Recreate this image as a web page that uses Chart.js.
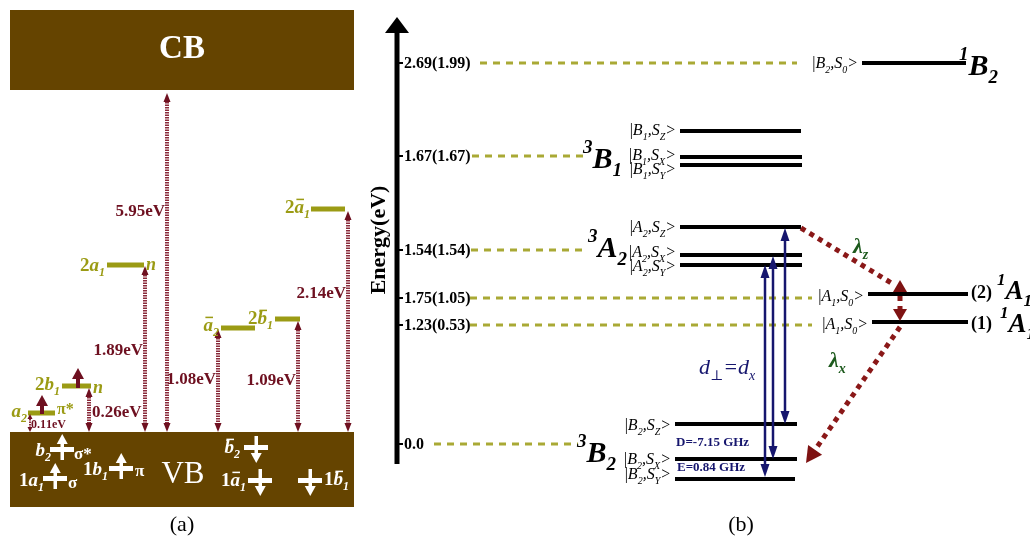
<!DOCTYPE html>
<html>
<head>
<meta charset="utf-8">
<script src="https://cdn.jsdelivr.net/npm/chart.js@4.4.0/dist/chart.umd.min.js"></script>
<style>
  html, body { margin: 0; padding: 0; background: #fff; }
  #wrap { width: 1030px; height: 541px; position: relative; }
</style>
</head>
<body>
<div id="wrap"><canvas id="fig"></canvas></div>
<script>
// diagram units: 1 unit ~ 1 px of the original figure, y grows downwards

// ---------- panel (a): orbital picture ----------
var aBandNames = ['CB', 'VB'];
var aBandTop = [10, 432];
var aBandBottom = [90, 507];
var aBandLeft = 10, aBandRight = 354;

var aOrbitals = ['`a_2', '2`b_1', '2`a_1', '`~a_2', '2`~b_1', '2`~a_1'];
var aOrbY  = [413, 386, 265, 328, 319, 209];
var aOrbX0 = [28, 62, 107, 221, 275, 311];
var aOrbX1 = [55, 91, 144, 255, 300, 345];

var aGapLabels = ['5.95eV', '2.14eV', '1.89eV', '1.08eV', '1.09eV', '0.26eV', '0.11eV'];
var aGapX   = [167, 348, 145, 218, 298, 89, 30];
var aGapTop = [93, 211, 266, 329, 321, 388, 414];
var aGapBottom = 432;

var aOccupied = ['`b_2', '1`a_1', '1`b_1', '`~b_2', '1`~a_1', '1`~b_1'];
var aOccSpin  = ['up', 'up', 'up', 'down', 'down', 'down'];
var aOccX = [62, 55, 121, 256, 260, 310];
var aOccY = [449, 478, 468, 447, 480, 480];

// ---------- panel (b): state diagram ----------
var bTickLabels = ['2.69(1.99)', '1.67(1.67)', '1.54(1.54)', '1.75(1.05)', '1.23(0.53)', '0.0'];
var bTickRows   = [63, 156, 250, 298, 325, 444];
var bGuideStart = [480, 472, 471, 470, 470, 434];
var bGuideEnd   = [797, 583, 585, 812, 812, 578];

var bStates = ['|`B_2,S_0>', '|`B_1,S_Z>', '|`B_1,S_X>', '|`B_1,S_Y>',
               '|`A_2,S_Z>', '|`A_2,S_X>', '|`A_2,S_Y>',
               '|`A_1,S_0>', '|`A_1,S_0>',
               '|`B_2,S_Z>', '|`B_2,S_X>', '|`B_2,S_Y>'];
var bStateY  = [63, 131, 157, 165, 227, 255, 265, 294, 322, 424, 459, 479];
var bStateX0 = [862, 680, 680, 680, 680, 680, 680, 868, 872, 675, 675, 675];
var bStateX1 = [966, 801, 802, 802, 801, 802, 802, 968, 968, 797, 797, 795];
var bStateLabelY = [63, 130, 155, 169, 227, 252, 266, 296, 324, 425, 459, 474];

var bTerms = ['`^1B_2', '`^3B_1', '`^3A_2', '`^3B_2', '`^1A_1', '`^1A_1'];
var bTermPos = [[959, 65], [583, 158], [588, 247], [577, 452], [997, 290], [1000, 323]];

var bDipoleX    = [765, 773, 785];
var bDipoleFrom = [265, 256, 228];
var bDipoleTo   = [477, 459, 424];

var bIscPath = [[801, 228], [893, 284], [900, 284], [900, 321], [900, 327], [806, 463]];

var DARKRED = '#6e1020', OLIVE = '#9b9b14', BROWN = '#654400', NAVY = '#16166e';
var SERIF = '"Liberation Serif", "DejaVu Serif", serif';

function seg(x0, x1, y0, y1) { return [{x: x0, y: y0}, {x: x1, y: y1}]; }
function lineSet(pts, color, width, dash) {
  return { data: pts, borderColor: color, borderWidth: width, borderDash: dash || [],
           pointRadius: 0, fill: false, tension: 0, borderCapStyle: 'butt' };
}

var datasets = [];
// olive orbital levels
aOrbY.forEach(function (y, i) { datasets.push(lineSet(seg(aOrbX0[i], aOrbX1[i], y, y), OLIVE, 5)); });
// dashed guides
bTickRows.forEach(function (y, i) { datasets.push(lineSet(seg(bGuideStart[i], bGuideEnd[i], y, y), '#a9a935', 3, [7, 6])); });
// tick dashes
bTickRows.forEach(function (y) { datasets.push(lineSet(seg(397, 403, y, y), '#000', 2)); });
// axis
datasets.push(lineSet(seg(397, 397, 464, 28), '#000', 5));
// black levels
bStateY.forEach(function (y, i) { datasets.push(lineSet(seg(bStateX0[i], bStateX1[i], y, y), '#000', 4)); });

function parseRich(s) {
  var out = [], it = false;
  for (var i = 0; i < s.length; i++) {
    var c = s[i], mode = 'n', over = false;
    if (c === '`') { it = !it; continue; }
    if (c === '~') { over = true; c = s[++i]; }
    if (c === '_') { mode = 'sub'; c = s[++i]; }
    else if (c === '^') { mode = 'sup'; c = s[++i]; }
    out.push({ c: c, mode: mode, over: over, it: it });
  }
  return out;
}

function drawRich(ctx, s, x, y, o) {
  var size = o.size, toks = parseRich(s);
  function font(t) {
    var sz = t.mode === 'n' ? size : Math.round(size * 0.62);
    return (t.it ? 'italic ' : '') + (o.bold ? 'bold ' : '') + sz + 'px ' + SERIF;
  }
  var w = 0;
  toks.forEach(function (t) { ctx.font = font(t); t.w = ctx.measureText(t.c).width; w += t.w; });
  var cx = o.align === 'right' ? x - w : (o.align === 'center' ? x - w / 2 : x);
  var base = y + size * 0.34;
  ctx.fillStyle = o.color; ctx.textAlign = 'left'; ctx.textBaseline = 'alphabetic';
  toks.forEach(function (t) {
    ctx.font = font(t);
    var dy = t.mode === 'sub' ? size * 0.26 : (t.mode === 'sup' ? -size * 0.52 : 0);
    ctx.fillText(t.c, cx, base + dy);
    if (t.over) ctx.fillRect(cx + t.w * 0.2, base - size * 0.78, t.w * 0.8, Math.max(1.5, size * 0.08));
    cx += t.w;
  });
}

function head(ctx, x, y, ang, len, wid) {
  ctx.beginPath();
  ctx.moveTo(x, y);
  ctx.lineTo(x - len * Math.cos(ang) + wid / 2 * Math.sin(ang), y - len * Math.sin(ang) - wid / 2 * Math.cos(ang));
  ctx.lineTo(x - len * Math.cos(ang) - wid / 2 * Math.sin(ang), y - len * Math.sin(ang) + wid / 2 * Math.cos(ang));
  ctx.closePath();
  ctx.fill();
}

var diagram = {
  id: 'diagram',
  beforeDatasetsDraw: function (chart) {
    var ctx = chart.ctx, X = chart.scales.x, Y = chart.scales.y;
    ctx.save();
    ctx.fillStyle = BROWN;
    aBandNames.forEach(function (n, i) {
      var x0 = X.getPixelForValue(aBandLeft), x1 = X.getPixelForValue(aBandRight);
      var y0 = Y.getPixelForValue(aBandTop[i]), y1 = Y.getPixelForValue(aBandBottom[i]);
      ctx.fillRect(x0, y0, x1 - x0, y1 - y0);
    });
    ctx.restore();
  },
  afterDatasetsDraw: function (chart) {
    var ctx = chart.ctx, X = chart.scales.x, Y = chart.scales.y;
    function px(v) { return X.getPixelForValue(v); }
    function py(v) { return Y.getPixelForValue(v); }
    ctx.save();

    // hatched gap arrows (a)
    aGapX.forEach(function (x, i) {
      var xx = px(x), t = py(aGapTop[i]), b = py(aGapBottom);
      var hl = i === 6 ? 5 : 9;
      ctx.strokeStyle = '#8a2a3a'; ctx.lineWidth = i === 6 ? 2 : 4; ctx.setLineDash([1.5, 1]);
      ctx.beginPath(); ctx.moveTo(xx, t + hl); ctx.lineTo(xx, b - hl); ctx.stroke();
      ctx.setLineDash([]); ctx.fillStyle = DARKRED;
      head(ctx, xx, t, -Math.PI / 2, hl, i === 6 ? 5 : 7);
      head(ctx, xx, b, Math.PI / 2, hl, i === 6 ? 5 : 7);
    });
    // electrons in a2 and 2b1
    [[42, 414, 395], [78, 388, 368]].forEach(function (e) {
      ctx.fillStyle = DARKRED;
      ctx.fillRect(px(e[0]) - 2, py(e[2]) + 8, 4, py(e[1]) - py(e[2]) - 8);
      head(ctx, px(e[0]), py(e[2]), -Math.PI / 2, 11, 12);
    });
    // white spin glyphs in VB
    ctx.fillStyle = '#fff';
    aOccX.forEach(function (x, i) {
      var xx = px(x), yy = py(aOccY[i]);
      ctx.fillRect(xx - 12, yy - 2, 24, 5);
      if (aOccSpin[i] === 'up') {
        ctx.fillRect(xx - 1.5, yy - 6, 3.5, 17);
        head(ctx, xx + 0.25, yy - 15, -Math.PI / 2, 10, 11);
      } else {
        ctx.fillRect(xx - 1.5, yy - 11, 3.5, 17);
        head(ctx, xx + 0.25, yy + 16, Math.PI / 2, 10, 11);
      }
    });

    // axis arrowhead (b)
    ctx.fillStyle = '#000';
    head(ctx, px(397), py(17), -Math.PI / 2, 16, 24);

    // dipole transitions
    ctx.strokeStyle = NAVY; ctx.fillStyle = NAVY; ctx.lineWidth = 2.5;
    bDipoleX.forEach(function (x, i) {
      var xx = px(x), t = py(bDipoleFrom[i]), b = py(bDipoleTo[i]);
      ctx.beginPath(); ctx.moveTo(xx, t + 10); ctx.lineTo(xx, b - 10); ctx.stroke();
      head(ctx, xx, t, -Math.PI / 2, 13, 9);
      head(ctx, xx, b, Math.PI / 2, 13, 9);
    });

    // intersystem crossing path
    ctx.strokeStyle = '#8a1818'; ctx.fillStyle = '#7e1212'; ctx.lineWidth = 5; ctx.setLineDash([5, 5]);
    for (var k = 0; k < bIscPath.length; k += 2) {
      var p0 = bIscPath[k], p1 = bIscPath[k + 1];
      var x0 = px(p0[0]), y0 = py(p0[1]), x1 = px(p1[0]), y1 = py(p1[1]);
      var ang = Math.atan2(y1 - y0, x1 - x0);
      var stop = k === 0 ? 0 : 12;
      var s0 = k === 2 ? 12 : 0;
      ctx.beginPath();
      ctx.moveTo(x0 + s0 * Math.cos(ang), y0 + s0 * Math.sin(ang));
      ctx.lineTo(x1 - stop * Math.cos(ang), y1 - stop * Math.sin(ang));
      ctx.stroke();
      ctx.setLineDash([]);
      if (k === 2) { head(ctx, x0, y0 - 4, -Math.PI / 2, 12, 14); head(ctx, x1, y1, Math.PI / 2, 12, 14); }
      if (k === 4) head(ctx, x1, y1, ang, 16, 17);
      ctx.setLineDash([5, 5]);
    }
    ctx.setLineDash([]);

    // ---- text ----
    drawRich(ctx, 'CB', px(182), py(47), { size: 33, bold: true, color: '#fff', align: 'center' });
    drawRich(ctx, 'VB', px(183), py(472), { size: 31, color: '#fff', align: 'center' });

    var gapPos = [[165, 210, 'right'], [346, 292, 'right'], [143, 349, 'right'], [216, 378, 'right'],
                  [296, 379, 'right'], [92, 411, 'left'], [31, 424, 'left']];
    aGapLabels.forEach(function (s, i) {
      var g = gapPos[i];
      drawRich(ctx, s, px(g[0]), py(g[1]), { size: i === 6 ? 12 : 17, bold: true, color: DARKRED, align: g[2] });
    });

    var orbLabelPos = [[27, 411], [60, 384], [105, 265], [219, 325], [273, 318], [310, 207]];
    aOrbitals.forEach(function (s, i) {
      drawRich(ctx, s, px(orbLabelPos[i][0]), py(orbLabelPos[i][1]), { size: 19, bold: true, color: OLIVE, align: 'right' });
    });
    drawRich(ctx, 'π*', px(57), py(409), { size: 16, bold: true, color: OLIVE, align: 'left' });
    drawRich(ctx, '`n', px(93), py(387), { size: 18, bold: true, color: OLIVE, align: 'left' });
    drawRich(ctx, '`n', px(146), py(264), { size: 18, bold: true, color: OLIVE, align: 'left' });

    var occLabelPos = [[51, 450, 'right'], [44, 480, 'right'], [108, 469, 'right'],
                       [240, 447, 'right'], [246, 480, 'right'], [324, 479, 'left']];
    aOccupied.forEach(function (s, i) {
      var p = occLabelPos[i];
      drawRich(ctx, s, px(p[0]), py(p[1]), { size: 19, bold: true, color: '#fff', align: p[2] });
    });
    drawRich(ctx, 'σ*', px(74), py(453), { size: 17, bold: true, color: '#fff', align: 'left' });
    drawRich(ctx, 'σ', px(68), py(482), { size: 17, bold: true, color: '#fff', align: 'left' });
    drawRich(ctx, 'π', px(135), py(470), { size: 17, bold: true, color: '#fff', align: 'left' });

    drawRich(ctx, '(a)', px(182), py(524), { size: 22, color: '#000', align: 'center' });
    drawRich(ctx, '(b)', px(741), py(524), { size: 22, color: '#000', align: 'center' });

    bTickLabels.forEach(function (s, i) {
      drawRich(ctx, s, px(404), py(bTickRows[i]), { size: 16, bold: true, color: '#000', align: 'left' });
    });

    ctx.save();
    ctx.translate(px(378), py(240));
    ctx.rotate(-Math.PI / 2);
    drawRich(ctx, 'Energy(eV)', 0, 0, { size: 22, bold: true, color: '#000', align: 'center' });
    ctx.restore();

    bStates.forEach(function (s, i) {
      var xr = bStateX0[i] - 4;
      drawRich(ctx, s, px(xr), py(bStateLabelY[i]), { size: 16, color: '#000', align: 'right' });
    });
    bTerms.forEach(function (s, i) {
      var sz = i >= 4 ? 27 : 30;
      drawRich(ctx, s, px(bTermPos[i][0]), py(bTermPos[i][1]), { size: sz, bold: true, color: '#000', align: 'left' });
    });
    drawRich(ctx, '(2)', px(971), py(292), { size: 18, bold: true, color: '#000', align: 'left' });
    drawRich(ctx, '(1)', px(971), py(323), { size: 18, bold: true, color: '#000', align: 'left' });

    drawRich(ctx, '`d_⊥=d_x', px(699), py(367), { size: 22, color: NAVY, align: 'left' });
    drawRich(ctx, 'D=-7.15 GHz', px(676), py(442), { size: 13, bold: true, color: NAVY, align: 'left' });
    drawRich(ctx, 'E=0.84 GHz', px(677), py(467), { size: 13, bold: true, color: NAVY, align: 'left' });
    drawRich(ctx, '`λ_z', px(853), py(246), { size: 22, bold: true, color: '#1d5a1d', align: 'left' });
    drawRich(ctx, '`λ_x', px(829), py(360), { size: 22, bold: true, color: '#1d5a1d', align: 'left' });

    ctx.restore();
  }
};

new Chart(document.getElementById('fig').getContext('2d'), {
  type: 'line',
  data: { datasets: datasets },
  options: {
    responsive: true,
    maintainAspectRatio: false,
    animation: false,
    layout: { padding: 0 },
    plugins: { legend: { display: false }, tooltip: { enabled: false } },
    scales: {
      x: { type: 'linear', min: 0, max: 1030, display: false },
      y: { type: 'linear', min: 0, max: 541, reverse: true, display: false }
    }
  },
  plugins: [diagram]
});
</script>
</body>
</html>
